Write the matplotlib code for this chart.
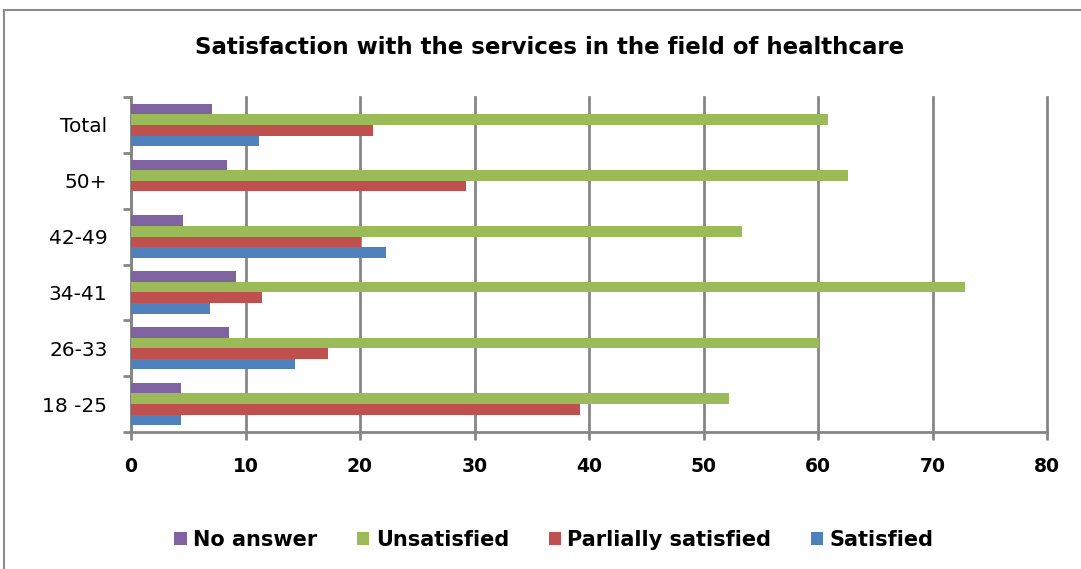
import numpy as np
import matplotlib.pyplot as plt
from matplotlib.patches import Rectangle

# data (bottom to top)
groups = ['18 -25', '26-33', '34-41', '42-49', '50+', 'Total']
satisfied = [4.4, 14.3, 6.9, 22.3, 0, 11.2]
partial = [39.2, 17.2, 11.4, 20.1, 29.3, 21.1]
unsatisfied = [52.2, 60.1, 72.8, 53.4, 62.6, 60.9]
no_answer = [4.4, 8.6, 9.2, 4.5, 8.4, 7.1]

series = [('Satisfied', satisfied, '#4F81BD'),
          ('Parlially satisfied', partial, '#C0504D'),
          ('Unsatisfied', unsatisfied, '#9BBB59'),
          ('No answer', no_answer, '#8064A2')]

fig = plt.figure(figsize=(10.81, 5.69), dpi=100)
ax = fig.add_axes([131 / 1081, 1 - 432 / 569, (1047 - 131) / 1081, (432 - 97) / 569])

# outer chart border
fig.patches.append(Rectangle((4 / 1081, -0.1), 1.2, 1 - 10 / 569 + 0.1,
                             transform=fig.transFigure, fill=False,
                             edgecolor='#8c8c8c', linewidth=1.5))

y = np.arange(len(groups))
h = 0.19
for i, (name, vals, col) in enumerate(series):
    ax.barh(y + (i - 1.5) * h, vals, height=h, color=col, label=name, zorder=3)

ax.set_xlim(0, 80)
ax.set_ylim(-0.5, len(groups) - 0.5)
ax.set_xticks(range(0, 81, 10))
ax.set_xticklabels([str(v) for v in range(0, 81, 10)], fontsize=13.5, fontweight='bold')
ax.set_yticks(y)
ax.set_yticklabels(groups, fontsize=14.5)
ax.set_yticks(np.arange(-0.5, len(groups), 1), minor=True)
ax.tick_params(axis='y', which='major', length=0, pad=17)
ax.tick_params(axis='y', which='minor', length=6, width=2, color='#868686')
ax.tick_params(axis='x', length=6, width=2, color='#868686', pad=12)
ax.grid(axis='x', color='#868686', linewidth=2, zorder=0)
for gl in ax.get_xgridlines():
    gl.set_clip_on(False)

for s in ['top', 'right']:
    ax.spines[s].set_visible(False)
for s in ['left', 'bottom']:
    ax.spines[s].set_color('#868686')
    ax.spines[s].set_linewidth(2)

fig.text(550 / 1081, 1 - 47 / 569, 'Satisfaction with the services in the field of healthcare',
         ha='center', va='center', fontsize=16.5, fontweight='bold')

handles, labels = ax.get_legend_handles_labels()
leg = fig.legend(handles[::-1], labels[::-1], loc='center', bbox_to_anchor=(554 / 1081, 1 - 540 / 569),
                 ncol=4, frameon=False, prop={'size': 15, 'weight': 'bold'},
                 handlelength=0.6, handleheight=0.6, handletextpad=0.3, columnspacing=1.9)

fig.savefig('out.png', dpi=100)
